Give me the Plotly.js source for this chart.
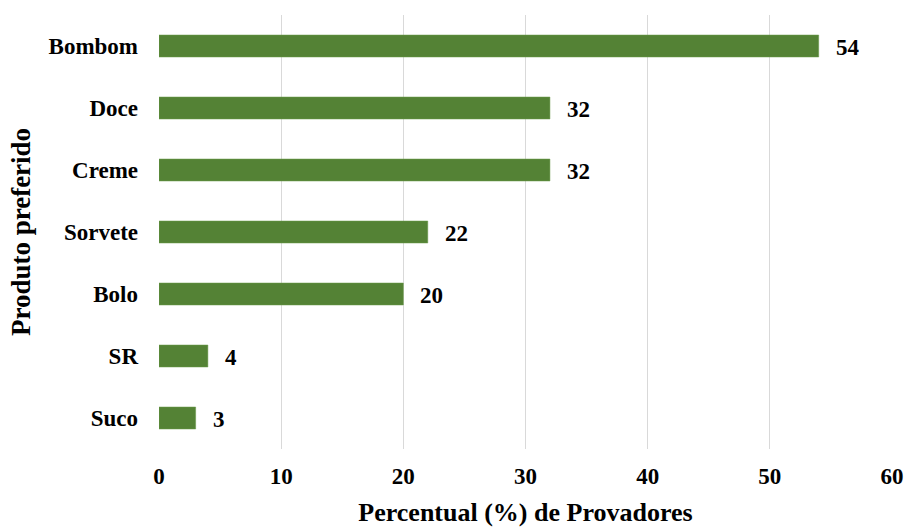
<!DOCTYPE html>
<html><head><meta charset="utf-8">
<script src="https://cdn.plot.ly/plotly-3.0.1.min.js"></script>
<style>html,body{margin:0;padding:0;background:#fff;}#chart{width:907px;height:528px;}</style>
</head><body><div id="chart"></div>
<script>
const categories = ["Suco", "SR", "Bolo", "Sorvete", "Creme", "Doce", "Bombom"];
const values = [3, 4, 20, 22, 32, 32, 54];
const xTicks = [0, 10, 20, 30, 40, 50, 60];

const font = "Liberation Serif, Times New Roman, serif";

const trace = {
  type: "bar",
  orientation: "h",
  y: categories,
  x: values,
  marker: {color: "#548235", line: {color: "#6a9a4a", width: 0.5}},
  hoverinfo: "none"
};

const annotations = categories.map((c, i) => ({
  x: values[i], y: c, xref: "x", yref: "y",
  text: String(values[i]), showarrow: false,
  xanchor: "left", yanchor: "middle", xshift: 15, yshift: -1,
  font: {family: font, size: 23, color: "#000", weight: "bold"}
}));

const layout = {
  width: 907, height: 528,
  margin: {l: 158.5, r: 15, t: 15, b: 79, pad: 0},
  paper_bgcolor: "#fff", plot_bgcolor: "#fff",
  showlegend: false,
  bargap: 0.645,
  font: {family: font, color: "#000"},
  xaxis: {
    range: [0, 60], tickvals: xTicks, ticktext: xTicks.map(String),
    showgrid: true, gridcolor: "#d9d9d9", gridwidth: 1.3,
    zeroline: false, showline: false, ticks: "",
    ticklabelstandoff: 11,
    tickfont: {family: font, size: 23, color: "#000", weight: "bold"},
    title: {text: "Percentual (%) de Provadores", standoff: 14,
            font: {family: font, size: 26, color: "#000", weight: "bold"}},
    automargin: false, fixedrange: true
  },
  yaxis: {
    categoryorder: "array", categoryarray: categories,
    showgrid: false, zeroline: false, showline: false, ticks: "",
    ticklabelstandoff: 20,
    tickfont: {family: font, size: 23, color: "#000", weight: "bold"},
    title: {text: "Produto preferido", standoff: 10,
            font: {family: font, size: 27, color: "#000", weight: "bold"}},
    automargin: false, fixedrange: true
  },
  annotations: annotations
};

Plotly.newPlot("chart", [trace], layout, {displayModeBar: false, staticPlot: true});
</script></body></html>
